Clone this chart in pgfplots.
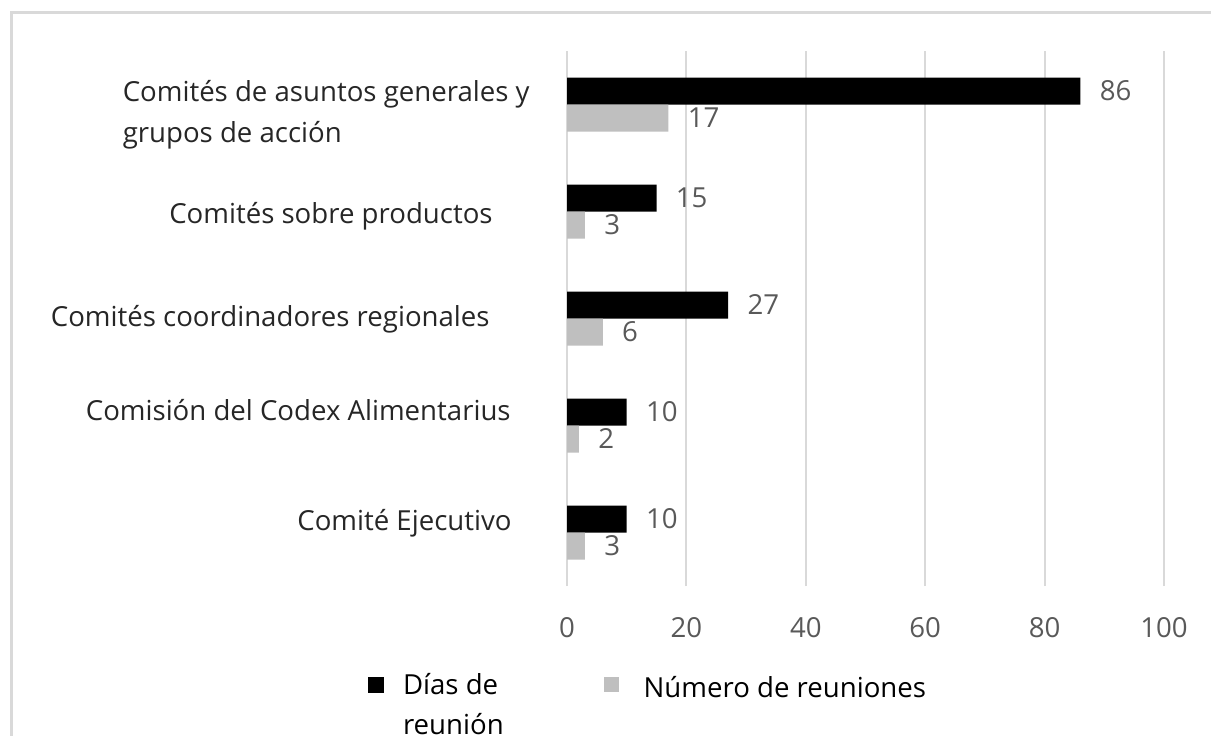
\documentclass[border=0pt]{standalone}
\usepackage{fontspec}
\setmainfont{Open Sans}
\usepackage{pgfplots}
\pgfplotsset{compat=1.18}
\definecolor{gridc}{HTML}{D9D9D9}
\definecolor{barg}{HTML}{BFBFBF}
\definecolor{txtg}{HTML}{595959}
\definecolor{txtd}{HTML}{262626}
\newcommand\fs{\fontsize{13.8}{16.5}\selectfont}
\newcommand\gap[1]{\rule{#1}{0pt}}
\begin{document}
\begin{tikzpicture}
\path[use as bounding box] (0,0) rectangle (605.5pt,367.5pt);
\clip (0,0) rectangle (605.5pt,367.5pt);
\draw[gridc, line width=1.5pt] (5.5pt,-5pt) -- (5.5pt,361pt) -- (620pt,361pt);
\begin{axis}[
  at={(283.5pt,74.5pt)}, anchor=south west,
  scale only axis, width=298.5pt, height=267.5pt,
  xmin=0, xmax=100, ymin=-0.5, ymax=4.5,
  xtick={0,20,...,100}, ytick={0,1,2,3,4},
  yticklabels={
    {\raisebox{1pt}{Comité Ejecutivo}\gap{27.5pt}},
    {\raisebox{2.5pt}{Comisión del Codex Alimentarius}\gap{28pt}},
    {\raisebox{-4pt}{Comités coordinadores regionales}\gap{38.5pt}},
    {\raisebox{-6pt}{Comités sobre productos}\gap{37pt}},
    {\raisebox{-19pt}{\vbox{\baselineskip=20.5pt\hbox{Comités de asuntos generales y}\hbox{grupos de acción}}}\gap{18.5pt}}
  },
  axis line style={draw=none},
  major tick length=0pt,
  xmajorgrids, grid style={gridc, line width=1pt},
  xticklabel style={font=\fs, text=txtg, inner sep=0pt, yshift=-15.5pt},
  yticklabel style={font=\fs, text=txtd, inner sep=0pt, anchor=base east},
  /pgf/number format/assume math mode=true,
  xbar, bar width=13.5pt,
  nodes near coords,
  nodes near coords style={font=\fs, text=txtg, anchor=west, inner sep=0pt, xshift=9.5pt},
  legend columns=2,
  legend style={at={(axis description cs:-0.3333,-0.1626)}, anchor=north west,
    draw=none, fill=none, inner sep=0pt, outer sep=0pt, font=\fs, text=black,
    column sep=0pt, nodes={inner sep=0pt}},
]
\addplot[fill=black, draw=none, bar shift=6.75pt,
  legend image code/.code={\fill[black] (0pt,-4pt) rectangle (8pt,4pt); \path[draw=none,fill=none] (0pt,-0.1pt) rectangle (17.5pt,0.1pt);}]
  coordinates {(10,0) (10,1) (27,2) (15,3) (86,4)};
\addlegendentry{\vtop{\baselineskip=20pt\hbox{Días de}\hbox{reunión}}}
\addplot[fill=barg, draw=none, bar shift=-6.75pt,
  legend image code/.code={\path[draw=none,fill=none] (-50pt,-0.1pt) rectangle (20pt,0.1pt); \fill[barg] (0pt,-3.5pt) rectangle (7.5pt,4pt);}]
  coordinates {(3,0) (2,1) (6,2) (3,3) (17,4)};
\addlegendentry{\raisebox{-3.5pt}{Número de reuniones}}
\end{axis}
\end{tikzpicture}
\end{document}
